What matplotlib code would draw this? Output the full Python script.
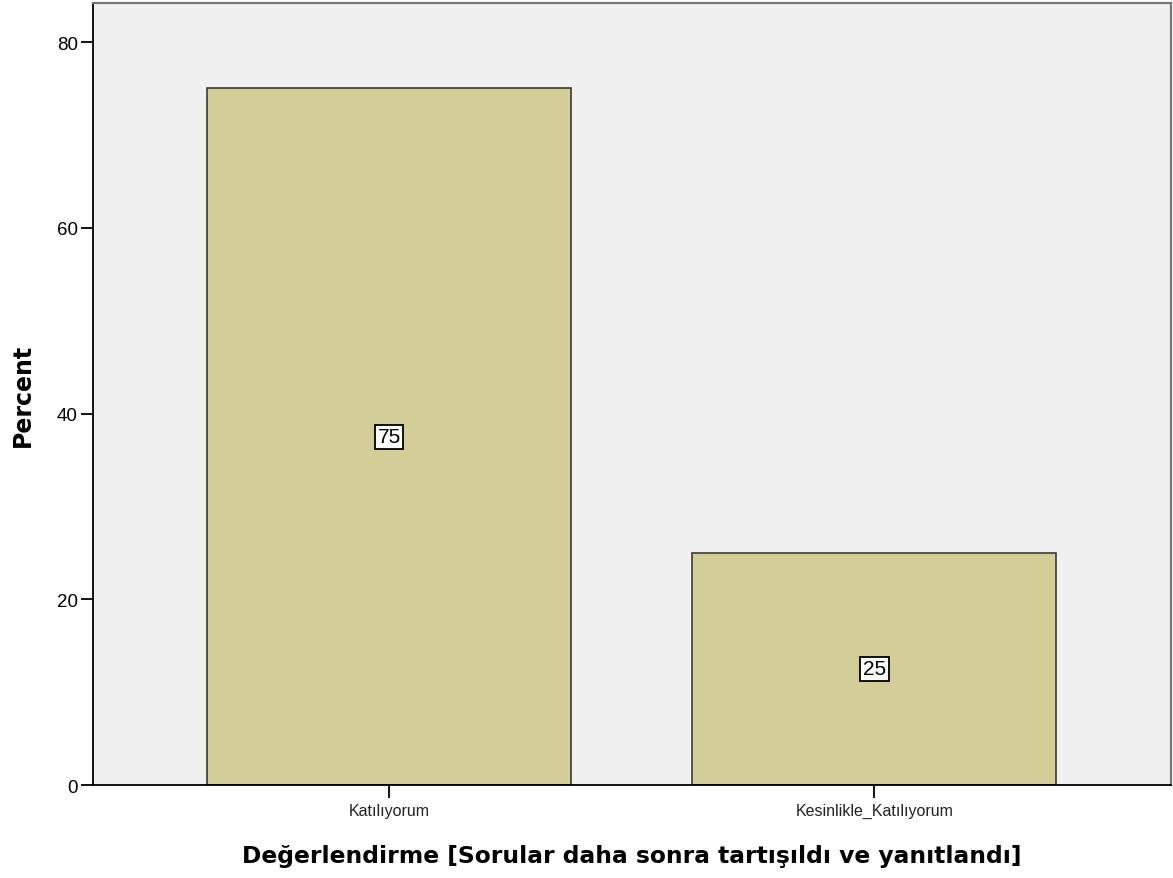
import matplotlib.pyplot as plt
import numpy as np

plt.rcParams['font.family'] = ['Liberation Sans', 'DejaVu Sans']

categories = ["Katılıyorum", "Kesinlikle_Katılıyorum"]
percent = [75, 25]

fig = plt.figure(figsize=(11.73, 8.79), dpi=100)
ax = fig.add_axes([0.0793, 0.1058, 0.9190, 0.8896])
ax.set_facecolor("#f0f0f0")

x = np.arange(len(categories))
ax.bar(x, percent, width=0.75, color="#d3ce98", edgecolor="#3a3a3a", linewidth=1.2, zorder=2)

for xi, v in zip(x, percent):
    ax.text(xi, v / 2, str(v), ha="center", va="center", fontsize=15,
            bbox=dict(boxstyle="square,pad=0.12", facecolor="white", edgecolor="black", linewidth=1.3),
            zorder=3)

ax.set_xlim(-0.61, 1.611)
ax.set_ylim(0, 84.2)
ax.set_yticks([0, 20, 40, 60, 80])
ax.set_xticks(x)
ax.set_xticklabels(categories, fontsize=11.5, color="#222222")
ax.tick_params(axis="y", labelsize=13.5, length=9, width=1.3, pad=2)
ax.tick_params(axis="x", length=9, width=1.3, pad=4)

for s in ["left", "bottom"]:
    ax.spines[s].set_color("black")
    ax.spines[s].set_linewidth(1.3)
for s in ["top", "right"]:
    ax.spines[s].set_color("#777777")
    ax.spines[s].set_linewidth(1.6)

ax.set_ylabel("Percent", fontsize=17, fontweight="bold", family="DejaVu Sans")
ax.set_xlabel("Değerlendirme [Sorular daha sonra tartışıldı ve yanıtlandı]",
              fontsize=16.8, fontweight="bold", family="DejaVu Sans")
ax.yaxis.set_label_coords(-0.054, 0.5)
ax.xaxis.set_label_coords(0.5, -0.076)

plt.savefig("out.png", dpi=100)
plt.close()
